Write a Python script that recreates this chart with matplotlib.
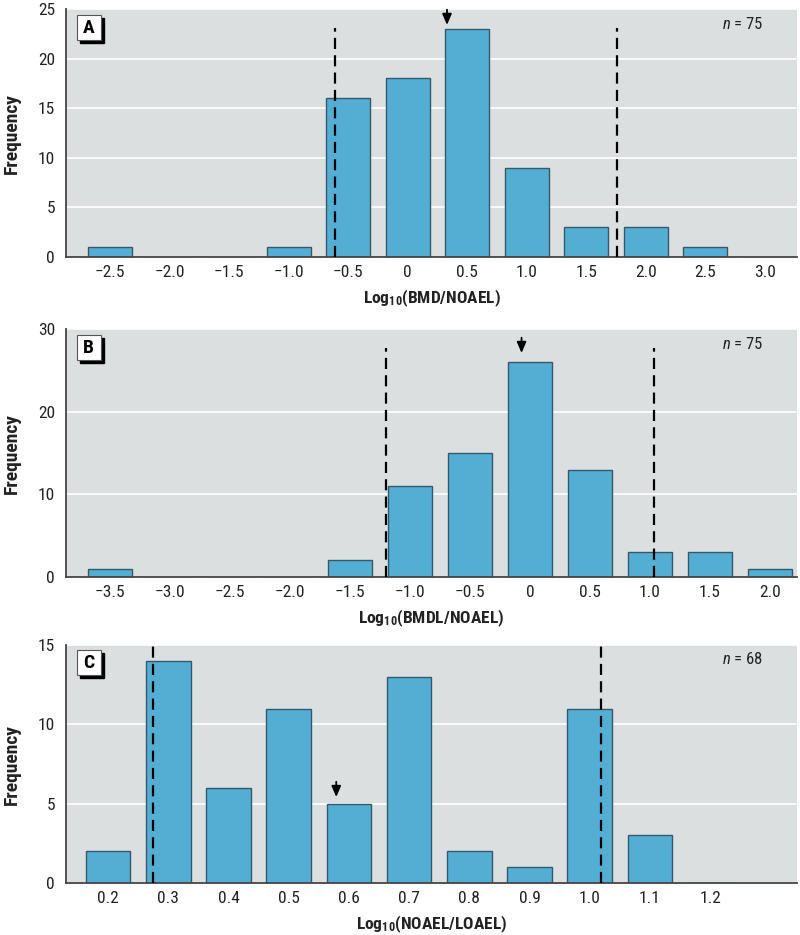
import matplotlib
matplotlib.use("Agg")
import matplotlib.pyplot as plt
from matplotlib.patches import Rectangle

plt.rcParams['font.family'] = ['Liberation Sans Narrow', 'Roboto Condensed', 'Liberation Sans', 'DejaVu Sans']
plt.rcParams['mathtext.fontset'] = 'custom'
plt.rcParams['mathtext.rm'] = 'Roboto Condensed'
plt.rcParams['mathtext.it'] = 'Roboto Condensed:italic'
plt.rcParams['mathtext.bf'] = 'Roboto Condensed:bold'

# panel A: Log10(BMD/NOAEL)
a_x = [-2.5, -2.0, -1.5, -1.0, -0.5, 0.0, 0.5, 1.0, 1.5, 2.0, 2.5, 3.0]
a_freq = [1, 0, 0, 1, 16, 18, 23, 9, 3, 3, 1, 0]
a_labels = ["\u22122.5", "\u22122.0", "\u22121.5", "\u22121.0", "\u22120.5", "0",
            "0.5", "1.0", "1.5", "2.0", "2.5", "3.0"]
a_dashed = [-0.61, 1.76]
a_arrow = 0.33

# panel B: Log10(BMDL/NOAEL)
b_x = [-3.5, -3.0, -2.5, -2.0, -1.5, -1.0, -0.5, 0.0, 0.5, 1.0, 1.5, 2.0]
b_freq = [1, 0, 0, 0, 2, 11, 15, 26, 13, 3, 3, 1]
b_labels = ["\u22123.5", "\u22123.0", "\u22122.5", "\u22122.0", "\u22121.5", "\u22121.0",
            "\u22120.5", "0", "0.5", "1.0", "1.5", "2.0"]
b_dashed = [-1.2, 1.03]
b_arrow = -0.07

# panel C: Log10(NOAEL/LOAEL)
c_x = [0.2, 0.3, 0.4, 0.5, 0.6, 0.7, 0.8, 0.9, 1.0, 1.1, 1.2]
c_freq = [2, 14, 6, 11, 5, 13, 2, 1, 11, 3, 0]
c_labels = ["0.2", "0.3", "0.4", "0.5", "0.6", "0.7", "0.8", "0.9", "1.0", "1.1", "1.2"]
c_dashed = [0.275, 1.019]
c_arrow = 0.579

panels = [
    dict(letter="A", x=a_x, f=a_freq, lab=a_labels, dash=a_dashed, arrow=a_arrow,
         n=75, step=0.5, ymax=25, yt=[0, 5, 10, 15, 20, 25], dtop=23.1, atip=23.4,
         xl=r"Log$_{\mathbf{10}}$(BMD/NOAEL)", pos=[0.0825, 0.7251, 0.9138, 0.2652],
         lim=(0.74, 0.54)),
    dict(letter="B", x=b_x, f=b_freq, lab=b_labels, dash=b_dashed, arrow=b_arrow,
         n=75, step=0.5, ymax=30, yt=[0, 10, 20, 30], dtop=27.7, atip=27.1,
         xl=r"Log$_{\mathbf{10}}$(BMDL/NOAEL)", pos=[0.0825, 0.3829, 0.9138, 0.2652],
         lim=(0.73, 0.45)),
    dict(letter="C", x=c_x, f=c_freq, lab=c_labels, dash=c_dashed, arrow=c_arrow,
         n=68, step=0.1, ymax=15, yt=[0, 5, 10, 15], dtop=15, atip=5.42,
         xl=r"Log$_{\mathbf{10}}$(NOAEL/LOAEL)", pos=[0.0825, 0.0556, 0.9138, 0.2545],
         lim=(0.70, 1.445)),
]

bg = "#dcdfe0"
bar_c = "#54aed3"
edge_c = "#35596a"
dark = "#222222"

fig = plt.figure(figsize=(8, 9.35), dpi=100)

for p in panels:
    ax = fig.add_axes(p["pos"])
    ax.set_facecolor(bg)
    ax.bar(p["x"], p["f"], width=p["step"] * 0.74, color=bar_c,
           edgecolor=edge_c, linewidth=1.0, zorder=3)
    ax.set_xlim(p["x"][0] - p["lim"][0] * p["step"], p["x"][-1] + p["lim"][1] * p["step"])
    ax.set_ylim(0, p["ymax"])
    ax.set_xticks(p["x"])
    ax.set_xticklabels(p["lab"])
    ax.set_yticks(p["yt"])
    ax.tick_params(length=0, labelsize=12.5, colors=dark)
    ax.tick_params(axis="y", pad=8)
    ax.tick_params(axis="x", pad=6)
    ax.grid(axis="y", color="white", linewidth=1.2, zorder=1)
    ax.set_axisbelow(True)
    for s in ["top", "right"]:
        ax.spines[s].set_visible(False)
    for s in ["left", "bottom"]:
        ax.spines[s].set_color("#444444")
        ax.spines[s].set_linewidth(1.3)
        ax.spines[s].set_zorder(4)

    for d in p["dash"]:
        ax.plot([d, d], [0, p["dtop"]], color="black", linewidth=1.6,
                linestyle=(0, (5, 2.8)), zorder=5, clip_on=False)

    ax.annotate("", xy=(p["arrow"], p["atip"]), xytext=(0, 11),
                textcoords="offset points", annotation_clip=False,
                arrowprops=dict(arrowstyle="-|>,head_length=0.65,head_width=0.28",
                                color="black", lw=1.3, shrinkA=0, shrinkB=0))

    ax.set_ylabel("Frequency", fontsize=14, fontweight="bold", color=dark, labelpad=12)
    ax.set_xlabel(p["xl"], fontsize=12.5, fontweight="bold", color=dark, labelpad=5)

    ax.text(0.926, 0.94, r"$n$ = %d" % p["n"], transform=ax.transAxes,
            ha="center", va="center", fontsize=12, color=dark)

    # letter box with shadow
    w_ax = p["pos"][2] * 800
    h_ax = p["pos"][3] * 935
    bw, bh = 24 / w_ax, 25 / h_ax
    cx, cy = 0.031, 0.925
    ax.add_patch(Rectangle((cx - bw / 2 + 3 / w_ax, cy - bh / 2 - 3 / h_ax), bw, bh,
                           transform=ax.transAxes, facecolor="black",
                           edgecolor="black", zorder=6, clip_on=False))
    ax.add_patch(Rectangle((cx - bw / 2, cy - bh / 2), bw, bh,
                           transform=ax.transAxes, facecolor="white",
                           edgecolor="#555555", linewidth=0.8, zorder=7, clip_on=False))
    ax.text(cx, cy, p["letter"], transform=ax.transAxes, ha="center", va="center",
            fontsize=14, fontweight="bold", color="black", zorder=8)

fig.savefig("out.png", dpi=100)
